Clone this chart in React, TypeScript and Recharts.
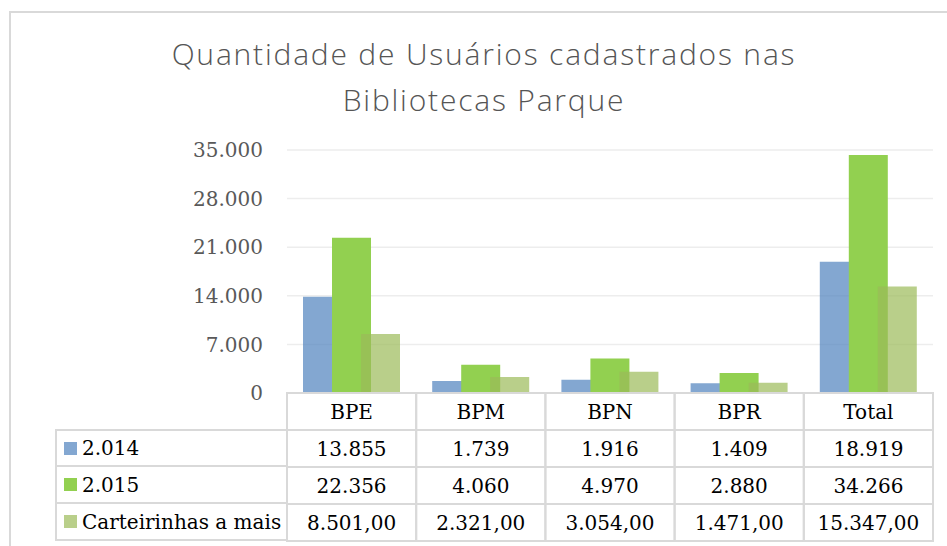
import React from 'react';
import { BarChart, Bar, XAxis, YAxis, CartesianGrid, Legend } from 'recharts';

const categories = ['BPE', 'BPM', 'BPN', 'BPR', 'Total'];
const users2014 = [13855, 1739, 1916, 1409, 18919];
const users2015 = [22356, 4060, 4970, 2880, 34266];
const extraCards = [8501, 2321, 3054, 1471, 15347];
const seriesNames = ['2.014', '2.015', 'Carteirinhas a mais'];
const yTicks = [0, 7000, 14000, 21000, 28000, 35000];

const data = categories.map((name, i) => ({
  name,
  y2014: users2014[i],
  y2015: users2015[i],
  extra: extraCards[i],
}));

const W = 947;
const H = 546;
const Y_AXIS_W = 87;
const MARGIN = { top: 150, right: 14, bottom: 5, left: 200 };
const ROW_H = 37;
const LINE = '#D9D9D9';
const SERIF = '"DejaVu Serif", serif';
const COLORS = ['#4F81BD', '#92D050', '#9BBB59'];
const OPACITY = [0.7, 1, 0.7];

const dots = (v: number) => String(v).replace(/\B(?=(\d{3})+(?!\d))/g, '.');
const tableRows = [
  users2014.map(dots),
  users2015.map(dots),
  extraCards.map((v) => dots(v) + ',00'),
];

const bandW = (W - MARGIN.left - Y_AXIS_W - MARGIN.right) / categories.length;

// one column of the data table, hung under each category tick
const TableColumn = (props: any) => {
  const { x, y, payload, index } = props;
  const left = x - bandW / 2;
  return (
    <g>
      <rect x={left} y={y} width={bandW} height={ROW_H * 4} fill="none" stroke={LINE} strokeWidth={2} />
      {[1, 2, 3].map((r) => (
        <line key={r} x1={left} x2={left + bandW} y1={y + r * ROW_H} y2={y + r * ROW_H} stroke={LINE} strokeWidth={2} />
      ))}
      <text x={x} y={y + ROW_H / 2} textAnchor="middle" dominantBaseline="central" fontFamily={SERIF} fontSize={20} fill="#000">
        {payload.value}
      </text>
      {tableRows.map((row, r) => (
        <text
          key={r}
          x={x}
          y={y + (r + 1.5) * ROW_H}
          textAnchor="middle"
          dominantBaseline="central"
          fontFamily={SERIF}
          fontSize={20}
          fill="#000"
        >
          {row[index]}
        </text>
      ))}
    </g>
  );
};

const LegendRows = ({ payload }: any) => (
  <div style={{ fontFamily: SERIF, fontSize: 20, color: '#000' }}>
    {(payload || []).map((item: any, i: number) => (
      <div
        key={item.value}
        style={{
          height: ROW_H + (i === 0 ? 1 : 0),
          boxSizing: 'border-box',
          borderLeft: `2px solid ${LINE}`,
          borderTop: i === 0 ? `2px solid ${LINE}` : 'none',
          borderBottom: `2px solid ${LINE}`,
          display: 'flex',
          alignItems: 'center',
          paddingLeft: 7,
          whiteSpace: 'nowrap',
        }}
      >
        <span
          style={{
            display: 'inline-block',
            width: 13,
            height: 13,
            background: item.color,
            opacity: OPACITY[i],
            marginRight: 5,
          }}
        />
        {item.value}
      </div>
    ))}
  </div>
);

export default function App() {
  return (
    <div style={{ position: 'fixed', left: 0, top: 0, width: W, height: H, overflow: 'hidden', background: '#fff' }}>
      <div
        style={{
          position: 'absolute',
          left: 9,
          top: 11,
          width: 980,
          height: 580,
          border: `2px solid ${LINE}`,
        }}
      />
      <div
        style={{
          position: 'absolute',
          left: 0,
          top: 31,
          width: 968,
          textAlign: 'center',
          fontFamily: '"Open Sans", sans-serif',
          fontWeight: 300,
          fontSize: 30,
          letterSpacing: 1.8,
          lineHeight: '46px',
          color: '#555555',
        }}
      >
        Quantidade de Usuários cadastrados nas
        <br />
        Bibliotecas Parque
      </div>
      <div style={{ position: 'absolute', left: 0, top: 0 }}>
        <BarChart width={W} height={H} data={data} margin={MARGIN} barSize={39} barGap={-10}>
          <CartesianGrid vertical={false} stroke="#EDEDED" strokeWidth={1.5} />
          <YAxis
            width={Y_AXIS_W}
            domain={[0, 35000]}
            ticks={yTicks}
            tickFormatter={dots}
            axisLine={false}
            tickLine={false}
            tickSize={0}
            tickMargin={24}
            tick={{ fontFamily: SERIF, fontSize: 20, fill: '#595959' }}
          />
          <XAxis
            dataKey="name"
            height={148}
            axisLine={false}
            tickLine={false}
            tickSize={0}
            tickMargin={0}
            interval={0}
            tick={(p: any) => <TableColumn {...p} />}
          />
          <Legend
            layout="vertical"
            align="center"
            verticalAlign="middle"
            width={232}
            content={<LegendRows />}
            wrapperStyle={{ left: 55, top: 429, width: 232 }}
          />
          <Bar dataKey="y2014" name={seriesNames[0]} fill={COLORS[0]} fillOpacity={OPACITY[0]} isAnimationActive={false} />
          <Bar dataKey="y2015" name={seriesNames[1]} fill={COLORS[1]} fillOpacity={OPACITY[1]} isAnimationActive={false} />
          <Bar dataKey="extra" name={seriesNames[2]} fill={COLORS[2]} fillOpacity={OPACITY[2]} isAnimationActive={false} />
        </BarChart>
      </div>
    </div>
  );
}
